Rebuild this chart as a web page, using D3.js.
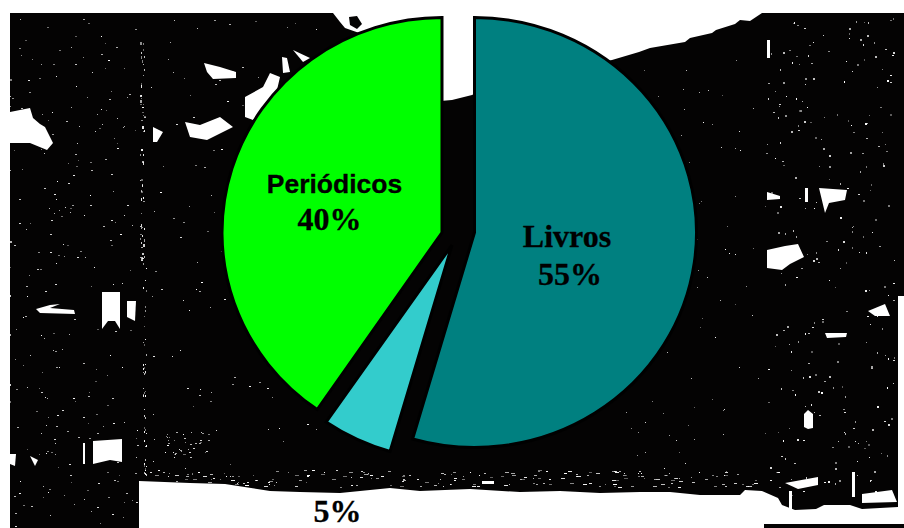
<!DOCTYPE html>
<html><head><meta charset="utf-8">
<script src="https://cdn.jsdelivr.net/npm/d3@7/dist/d3.min.js"></script>
<style>html,body{margin:0;padding:0;background:#fff}svg{display:block}</style>
</head><body><svg id="c" width="904" height="528"></svg>
<script>
const categories = ["Livros", "", "Periódicos"];
const values = [54.5, 5.1, 40.4];
const percentLabels = ["55%", "5%", "40%"];
const colours = ["#008080", "#33CCCC", "#00FF00"];

// Photographic backdrop of the original slide (decoration, not data)
const backdrop = [[10,13],[333,13],[340,22],[345,28],[365,35],[400,60],[440,101],[452,100],[472,95],[500,80],[612,60],[639,52],[650,48],[685,42],[690,38],[712,33],[716,30],[735,24],[740,20],[750,21],[762,13],[904,13],[904,296],[898,296],[898,507],[862,509],[850,505],[824,505],[816,509],[795,510],[782,505],[778,498],[762,491],[745,490],[740,495],[700,495],[670,492],[640,492],[600,493],[560,491],[520,492],[470,489],[420,491],[390,488],[340,493],[300,492],[270,491],[225,484],[190,483],[139,481],[139,528],[10,528]];
const holes = [
 [[10,112],[30,108],[33,118],[40,124],[45,127],[53,143],[47,150],[30,143],[10,143]],
 [[204,63],[220,67],[236,72],[236,78],[213,79],[207,72]],
 [[185,122],[200,125],[220,117],[233,127],[207,140],[190,137]],
 [[245,97],[263,87],[270,73],[280,77],[277,90],[253,120],[245,117]],
 [[153,127],[163,132],[157,142],[153,142]],
 [[282,57],[287,58],[290,72],[283,73]],
 [[293,50],[310,58],[303,62]],
 [[102,292],[120,292],[120,329],[115,321],[108,321],[102,329]],
 [[127,301],[136,301],[135,321],[127,317]],
 [[36,309],[50,305],[60,304],[50,308],[74,310],[75,314],[40,313]],
 [[93,441],[122,439],[122,462],[110,460],[93,464]],
 [[83,443],[85,443],[85,464],[83,464]],
 [[10,454],[16,454],[15,466],[10,464]],
 [[30,456],[38,460],[35,466]],
 [[767,40],[770,40],[770,58],[767,58]],
 [[819,188],[847,190],[845,200],[829,203],[825,213]],
 [[805,188],[808,188],[808,202],[805,202]],
 [[767,192],[780,196],[780,199],[767,200]],
 [[767,250],[785,246],[798,244],[804,257],[790,264],[782,270],[767,268]],
 [[804,414],[808,410],[813,414],[813,428],[808,429],[804,427]],
 [[868,311],[885,304],[890,316],[875,316]],
 [[825,333],[847,333],[846,337],[827,338]],
 [[785,483],[818,477],[818,485],[798,489]],
 [[862,494],[892,490],[897,502],[862,503]],
 [[852,472],[855,472],[855,497],[852,497]],
 [[482,481],[494,481],[494,484],[482,484]],
 [[789,491],[792,491],[792,510],[789,510]]
];
const blob = [[349,17],[357,16],[362,24],[357,29],[350,25]];

const svg = d3.select("#c");
const line = d3.line();
svg.append("path").attr("d", line(backdrop) + "Z").attr("fill", "#040303");
svg.append("path").attr("d", line(blob) + "Z").attr("fill", "#040303");

// Fine speckle of the scanned photo: a fixed-seed texture, not chart data
const rnd = d3.randomLcg(0.4242);
function specks(n, x0, y0, w, h, maxW, maxH) {
  const g = svg.append("g").attr("fill", "#fff");
  for (let i = 0; i < n; i++) {
    g.append("rect").attr("x", Math.round(x0 + rnd() * w)).attr("y", Math.round(y0 + rnd() * h))
      .attr("width", 1 + Math.floor(rnd() * maxW)).attr("height", 1 + Math.floor(rnd() * maxH))
      .attr("opacity", 0.35 + rnd() * 0.65);
  }
}
specks(240, 12, 16, 125, 510, 2, 1);
specks(110, 150, 16, 170, 460, 2, 1);
specks(90, 620, 60, 145, 420, 1, 1);
specks(260, 765, 16, 130, 480, 2, 2);
specks(200, 140, 470, 640, 17, 4, 1);
specks(40, 165, 432, 45, 26, 2, 1);
specks(60, 140, 40, 4, 220, 2, 3);
specks(50, 143, 260, 3, 215, 1, 2);
specks(22, 7, 65, 3, 65, 2, 2);
specks(30, 7, 150, 3, 290, 2, 2);

svg.append("g").attr("fill", "#fff").selectAll("path").data(holes).join("path")
  .attr("d", d => line(d) + "Z");
svg.append("rect").attr("x", 764).attr("y", 524).attr("width", 140).attr("height", 4).attr("fill", "#040303");

// Exploded, slightly wide pie
const baseRadius = 215;
const pie = d3.pie().sort(null).value(d => d);
const arc = d3.arc().innerRadius(0).outerRadius(baseRadius);
const centres = [[474.5, 232.5], [452, 245], [442, 232.5]];
const wide = [222, 222, 220];
svg.append("g").selectAll("path").data(pie(values)).join("path")
  .attr("transform", (d, i) => `translate(${centres[i][0]},${centres[i][1]}) scale(${wide[i] / baseRadius},1)`)
  .attr("d", arc)
  .attr("fill", (d, i) => colours[i])
  .attr("stroke", "#000").attr("stroke-width", 3).attr("stroke-linejoin", "miter")
  .attr("vector-effect", "non-scaling-stroke");

const serif = "'Liberation Serif','Times New Roman',serif";
const sans = "'Liberation Sans',Arial,sans-serif";
const labels = [
  {t: categories[2], x: 334.5, y: 193, f: sans, s: 26.5},
  {t: percentLabels[2], x: 329.5, y: 230, f: serif, s: 32},
  {t: categories[0], x: 567, y: 247, f: serif, s: 32},
  {t: percentLabels[0], x: 570, y: 285, f: serif, s: 32},
  {t: percentLabels[1], x: 337.5, y: 522, f: serif, s: 32}
];
svg.append("g").selectAll("text").data(labels).join("text")
  .attr("x", d => d.x).attr("y", d => d.y).attr("text-anchor", "middle")
  .attr("font-family", d => d.f).attr("font-size", d => d.s).attr("font-weight", "bold")
  .attr("fill", "#000").attr("stroke", "#000").attr("stroke-width", 0.3).text(d => d.t);
</script></body></html>
